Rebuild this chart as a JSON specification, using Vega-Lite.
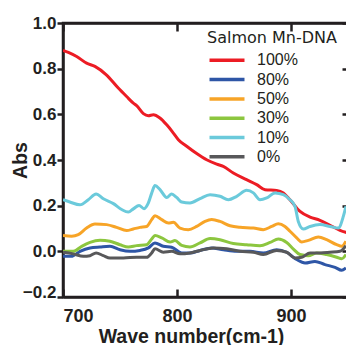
{
  "$schema": "https://vega.github.io/schema/vega-lite/v6.json",
  "width": 285,
  "height": 274,
  "autosize": {"type": "none"},
  "padding": {"left": 63, "top": 23, "right": 0, "bottom": 48},
  "background": "white",
  "config": {
    "font": "Liberation Sans",
    "view": {"stroke": "#231f20", "strokeWidth": 2.5},
    "axis": {"grid": false, "domainColor": "#231f20", "domainWidth": 2.5, "tickColor": "#231f20", "tickWidth": 2.5, "labelFont": "Liberation Sans", "labelFontWeight": "bold", "labelFontSize": 17, "labelColor": "#231f20", "titleFont": "Liberation Sans", "titleFontWeight": "bold", "titleFontSize": 19.5, "titleColor": "#231f20"}
  },
  "data": {"values": [
    {"s":"100%","wn":700,"a":0.88},{"s":"100%","wn":704.7,"a":0.871},{"s":"100%","wn":712,"a":0.853},{"s":"100%","wn":720.7,"a":0.824},{"s":"100%","wn":728,"a":0.81},{"s":"100%","wn":738,"a":0.773},{"s":"100%","wn":748.5,"a":0.715},{"s":"100%","wn":755.8,"a":0.678},{"s":"100%","wn":761.7,"a":0.649},{"s":"100%","wn":764.6,"a":0.638},{"s":"100%","wn":770.5,"a":0.603},{"s":"100%","wn":774.9,"a":0.594},{"s":"100%","wn":779.2,"a":0.598},{"s":"100%","wn":785,"a":0.584},{"s":"100%","wn":791,"a":0.554},{"s":"100%","wn":796.8,"a":0.518},{"s":"100%","wn":801.2,"a":0.489},{"s":"100%","wn":808.5,"a":0.46},{"s":"100%","wn":817.3,"a":0.428},{"s":"100%","wn":826,"a":0.401},{"s":"100%","wn":834.8,"a":0.382},{"s":"100%","wn":840.6,"a":0.372},{"s":"100%","wn":849.4,"a":0.343},{"s":"100%","wn":861,"a":0.314},{"s":"100%","wn":869.9,"a":0.292},{"s":"100%","wn":877.2,"a":0.27},{"s":"100%","wn":887.4,"a":0.267},{"s":"100%","wn":893.3,"a":0.256},{"s":"100%","wn":899.1,"a":0.226},{"s":"100%","wn":907.9,"a":0.175},{"s":"100%","wn":916.7,"a":0.15},{"s":"100%","wn":925.4,"a":0.136},{"s":"100%","wn":934.2,"a":0.114},{"s":"100%","wn":943,"a":0.092},{"s":"100%","wn":950,"a":0.08},

    {"s":"80%","wn":700,"a":-0.022},{"s":"80%","wn":707.3,"a":-0.022},{"s":"80%","wn":714.9,"a":0.0},{"s":"80%","wn":723.7,"a":0.015},{"s":"80%","wn":732.5,"a":0.019},{"s":"80%","wn":741.2,"a":0.022},{"s":"80%","wn":750,"a":0.007},{"s":"80%","wn":758.8,"a":0.0},{"s":"80%","wn":767.5,"a":0.004},{"s":"80%","wn":774.9,"a":0.015},{"s":"80%","wn":780.7,"a":0.037},{"s":"80%","wn":788,"a":0.022},{"s":"80%","wn":795.3,"a":0.018},{"s":"80%","wn":804.1,"a":-0.007},{"s":"80%","wn":811.4,"a":-0.007},{"s":"80%","wn":820.2,"a":0.004},{"s":"80%","wn":830.4,"a":0.015},{"s":"80%","wn":840.6,"a":0.007},{"s":"80%","wn":852.4,"a":0.0},{"s":"80%","wn":864,"a":0.0},{"s":"80%","wn":875.7,"a":-0.007},{"s":"80%","wn":887.4,"a":0.007},{"s":"80%","wn":896.2,"a":-0.004},{"s":"80%","wn":905,"a":-0.036},{"s":"80%","wn":912.3,"a":-0.051},{"s":"80%","wn":921,"a":-0.044},{"s":"80%","wn":929.8,"a":-0.058},{"s":"80%","wn":938.6,"a":-0.07},{"s":"80%","wn":944.5,"a":-0.083},{"s":"80%","wn":948.2,"a":-0.073},

    {"s":"50%","wn":700,"a":0.069},{"s":"50%","wn":707.6,"a":0.066},{"s":"50%","wn":713.4,"a":0.073},{"s":"50%","wn":720.7,"a":0.102},{"s":"50%","wn":728,"a":0.12},{"s":"50%","wn":738.3,"a":0.117},{"s":"50%","wn":747,"a":0.105},{"s":"50%","wn":755.8,"a":0.091},{"s":"50%","wn":761.7,"a":0.098},{"s":"50%","wn":767.5,"a":0.105},{"s":"50%","wn":773.4,"a":0.109},{"s":"50%","wn":777.8,"a":0.139},{"s":"50%","wn":780.7,"a":0.156},{"s":"50%","wn":786.6,"a":0.139},{"s":"50%","wn":792.4,"a":0.124},{"s":"50%","wn":796.8,"a":0.127},{"s":"50%","wn":802.6,"a":0.102},{"s":"50%","wn":809.9,"a":0.095},{"s":"50%","wn":817.3,"a":0.109},{"s":"50%","wn":824.6,"a":0.131},{"s":"50%","wn":830.4,"a":0.139},{"s":"50%","wn":837.7,"a":0.131},{"s":"50%","wn":846.5,"a":0.112},{"s":"50%","wn":855.3,"a":0.105},{"s":"50%","wn":867,"a":0.102},{"s":"50%","wn":875.7,"a":0.095},{"s":"50%","wn":883,"a":0.109},{"s":"50%","wn":888.9,"a":0.121},{"s":"50%","wn":894.7,"a":0.109},{"s":"50%","wn":899.1,"a":0.088},{"s":"50%","wn":905,"a":0.059},{"s":"50%","wn":909.4,"a":0.041},{"s":"50%","wn":915.2,"a":0.048},{"s":"50%","wn":924,"a":0.063},{"s":"50%","wn":931.3,"a":0.051},{"s":"50%","wn":940.1,"a":0.029},{"s":"50%","wn":944.5,"a":0.022},{"s":"50%","wn":948.2,"a":0.044},

    {"s":"30%","wn":700,"a":0.0},{"s":"30%","wn":709,"a":0.0},{"s":"30%","wn":716.4,"a":0.022},{"s":"30%","wn":723.7,"a":0.039},{"s":"30%","wn":732.5,"a":0.048},{"s":"30%","wn":741.2,"a":0.044},{"s":"30%","wn":750,"a":0.029},{"s":"30%","wn":757.3,"a":0.019},{"s":"30%","wn":764.6,"a":0.025},{"s":"30%","wn":773.4,"a":0.029},{"s":"30%","wn":777.8,"a":0.054},{"s":"30%","wn":780.7,"a":0.069},{"s":"30%","wn":786.6,"a":0.059},{"s":"30%","wn":793.9,"a":0.041},{"s":"30%","wn":798.2,"a":0.047},{"s":"30%","wn":804.1,"a":0.026},{"s":"30%","wn":811.4,"a":0.019},{"s":"30%","wn":820.2,"a":0.037},{"s":"30%","wn":829,"a":0.056},{"s":"30%","wn":837.7,"a":0.051},{"s":"30%","wn":849.4,"a":0.034},{"s":"30%","wn":861.1,"a":0.029},{"s":"30%","wn":872.8,"a":0.025},{"s":"30%","wn":881.6,"a":0.039},{"s":"30%","wn":888.9,"a":0.054},{"s":"30%","wn":896.2,"a":0.039},{"s":"30%","wn":902.1,"a":0.01},{"s":"30%","wn":907.9,"a":-0.014},{"s":"30%","wn":915.2,"a":-0.019},{"s":"30%","wn":922.5,"a":-0.007},{"s":"30%","wn":931.3,"a":-0.014},{"s":"30%","wn":940.1,"a":-0.026},{"s":"30%","wn":944.5,"a":-0.033},{"s":"30%","wn":948.2,"a":-0.014},

    {"s":"10%","wn":700,"a":0.226},{"s":"10%","wn":706,"a":0.216},{"s":"10%","wn":714.9,"a":0.204},{"s":"10%","wn":722.2,"a":0.226},{"s":"10%","wn":729,"a":0.251},{"s":"10%","wn":735.4,"a":0.23},{"s":"10%","wn":744.2,"a":0.209},{"s":"10%","wn":751.5,"a":0.183},{"s":"10%","wn":757.3,"a":0.172},{"s":"10%","wn":761.7,"a":0.186},{"s":"10%","wn":766.7,"a":0.201},{"s":"10%","wn":771.1,"a":0.187},{"s":"10%","wn":774.9,"a":0.212},{"s":"10%","wn":777.8,"a":0.255},{"s":"10%","wn":780.7,"a":0.288},{"s":"10%","wn":785.1,"a":0.27},{"s":"10%","wn":791,"a":0.236},{"s":"10%","wn":795.3,"a":0.251},{"s":"10%","wn":799.7,"a":0.236},{"s":"10%","wn":804.1,"a":0.216},{"s":"10%","wn":811.4,"a":0.212},{"s":"10%","wn":820.2,"a":0.231},{"s":"10%","wn":829,"a":0.248},{"s":"10%","wn":837.7,"a":0.241},{"s":"10%","wn":845,"a":0.226},{"s":"10%","wn":852.4,"a":0.241},{"s":"10%","wn":861.1,"a":0.267},{"s":"10%","wn":867,"a":0.256},{"s":"10%","wn":872.8,"a":0.226},{"s":"10%","wn":878.7,"a":0.234},{"s":"10%","wn":886,"a":0.256},{"s":"10%","wn":893.3,"a":0.248},{"s":"10%","wn":899.1,"a":0.226},{"s":"10%","wn":903.5,"a":0.197},{"s":"10%","wn":906.4,"a":0.131},{"s":"10%","wn":910.8,"a":0.098},{"s":"10%","wn":916.7,"a":0.109},{"s":"10%","wn":925.4,"a":0.117},{"s":"10%","wn":934.2,"a":0.109},{"s":"10%","wn":941.5,"a":0.102},{"s":"10%","wn":945.9,"a":0.153},{"s":"10%","wn":948.2,"a":0.197},

    {"s":"0%","wn":700,"a":-0.004},{"s":"0%","wn":709,"a":-0.011},{"s":"0%","wn":717.8,"a":-0.022},{"s":"0%","wn":723.7,"a":-0.019},{"s":"0%","wn":729,"a":-0.007},{"s":"0%","wn":735.4,"a":-0.019},{"s":"0%","wn":741.2,"a":-0.029},{"s":"0%","wn":753,"a":-0.029},{"s":"0%","wn":764.6,"a":-0.026},{"s":"0%","wn":773.4,"a":-0.026},{"s":"0%","wn":777.8,"a":-0.007},{"s":"0%","wn":780.7,"a":0.011},{"s":"0%","wn":788,"a":-0.004},{"s":"0%","wn":795.3,"a":0.0},{"s":"0%","wn":802.6,"a":-0.011},{"s":"0%","wn":811.4,"a":-0.007},{"s":"0%","wn":820.2,"a":0.004},{"s":"0%","wn":831.9,"a":0.015},{"s":"0%","wn":843.6,"a":0.011},{"s":"0%","wn":855.3,"a":0.0},{"s":"0%","wn":867,"a":-0.004},{"s":"0%","wn":875.7,"a":-0.014},{"s":"0%","wn":887.4,"a":0.004},{"s":"0%","wn":896.2,"a":-0.004},{"s":"0%","wn":903.5,"a":-0.029},{"s":"0%","wn":909.4,"a":-0.026},{"s":"0%","wn":916.7,"a":-0.007},{"s":"0%","wn":925.4,"a":-0.007},{"s":"0%","wn":934.2,"a":-0.004},{"s":"0%","wn":943,"a":0.0},{"s":"0%","wn":948.2,"a":0.025}
  ]},
  "layer": [
    {
      "mark": {"type": "line", "strokeWidth": 3, "clip": true, "interpolate": "monotone"},
      "encoding": {
        "x": {"field": "wn", "type": "quantitative", "scale": {"domain": [700, 950], "nice": false, "zero": false},
          "axis": {"orient": "bottom", "values": [700, 800, 900], "tickSize": -8, "labelPadding": 32, "labelBaseline": "alphabetic", "labelFontSize": 18, "title": "Wave number(cm-1)", "titleX": 128, "titleY": 45, "titleBaseline": "alphabetic", "titleAnchor": "middle"}},
        "y": {"field": "a", "type": "quantitative", "scale": {"domain": [-0.2, 1.0], "nice": false, "zero": false},
          "axis": {"orient": "left", "values": [-0.2, 0, 0.2, 0.4, 0.6, 0.8, 1.0], "format": ".1f", "tickSize": 6, "labelPadding": 1, "labelOffset": {"condition": {"test": "datum.value < -0.1", "value": -5}, "value": 0}, "title": "Abs", "titleX": -43, "titleY": 137, "titleBaseline": "middle", "titleAngle": -90}},
        "color": {"field": "s", "type": "nominal",
          "scale": {"domain": ["100%", "80%", "50%", "30%", "10%", "0%"], "range": ["#ec1c24", "#2e56a6", "#f7a427", "#8cc63f", "#6bcadb", "#58585a"]},
          "legend": {"title": "Salmon Mn-DNA", "orient": "none", "legendX": 144, "legendY": 7, "padding": 0, "symbolType": "M-3,0H3", "symbolSize": 136, "symbolStrokeWidth": 3.5, "symbolOffset": 12, "labelFontSize": 16, "labelFont": "Liberation Sans", "labelColor": "#231f20", "titleFontSize": 16, "titleFontWeight": "normal", "titleFont": "DejaVu Sans", "titleColor": "#231f20", "titlePadding": 6.3, "rowPadding": 3.3, "labelOffset": 22}}
      }
    },
    {
      "mark": {"type": "line", "strokeOpacity": 0},
      "encoding": {
        "x": {"field": "wn", "type": "quantitative", "scale": {"domain": [700, 950], "nice": false, "zero": false},
          "axis": {"orient": "top", "values": [700, 800, 900], "tickSize": -8, "labels": false, "title": null}},
        "y": {"field": "a", "type": "quantitative", "scale": {"domain": [-0.2, 1.0], "nice": false, "zero": false},
          "axis": {"orient": "right", "values": [-0.2, 0, 0.2, 0.4, 0.6, 0.8, 1.0], "tickSize": -6, "labels": false, "title": null}}
      }
    }
  ],
  "resolve": {"axis": {"x": "independent", "y": "independent"}}
}
